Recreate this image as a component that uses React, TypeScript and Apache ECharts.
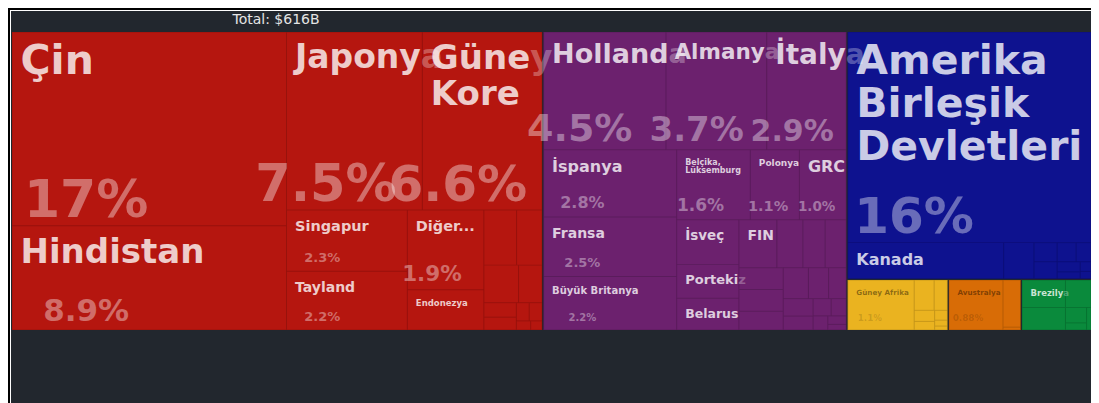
import React, { useEffect, useRef } from 'react';
import * as echarts from 'echarts';

const BG = '#22272e';
const FONT = 'DejaVu Sans';
// the tiling is computed on a box K times taller and drawn scaled back vertically
const K = 1.09;
const SERIES_LEFT = 1;
const SERIES_TOP = 21;
const SERIES_W = 1079;
const SERIES_H = 298;

const CONTINENTS = ['Asya', 'Avrupa', 'Kuzey Amerika', 'Afrika', 'Okyanusya', 'Güney Amerika'];
const CONTINENT_COLORS = ['#b5160f', '#6c216e', '#0e128f', '#eab320', '#d86c06', '#0a8a3c'];

// values in billions of USD
const ASIA_COUNTRIES = ['Çin', 'Hindistan', 'Japonya', 'Güney Kore', 'Singapur', 'Tayland', 'Diğer Asya', 'Endonezya', 'Türkiye', 'Malezya', 'İsrail', 'Pakistan', 'Filipinler', 'Vietnam', 'Bahreyn', 'Sri Lanka', 'Ürdün', 'Kazakistan'];
const ASIA_VALUES = [102, 54.9, 46.4, 40.9, 14.2, 13.6, 11.7, 5.9, 3.45, 2.7, 2.5, 1.7, 0.9, 0.8, 0.45, 0.45, 0.25, 0.2];

const EUROPE_COUNTRIES = ['Hollanda', 'Almanya', 'İtalya', 'İspanya', 'Fransa', 'Büyük Britanya', 'Belçika, Lüksemburg', 'Polonya', 'Yunanistan', 'İsveç', 'Portekiz', 'Belarus', 'Finlandiya', 'Litvanya', 'Romanya', 'Avusturya', 'Çekya', 'Slovakya', 'Macaristan', 'Bulgaristan', 'Hırvatistan', 'İsviçre', 'İrlanda', 'Norveç', 'Danimarka', 'Sırbistan', 'Ukrayna', 'Estonya', 'Letonya'];
const EUROPE_VALUES = [27.7, 22.8, 18.0, 17.2, 15.2, 13.7, 9.9, 6.6, 6.3, 5.35, 4.05, 3.8, 3.5, 2.4, 2.05, 1.95, 1.85, 1.85, 1.6, 1.5, 1.2, 1.05, 1.0, 0.8, 0.6, 0.5, 0.4, 0.3, 0.2];

const NORTH_AMERICA_COUNTRIES = ['Amerika Birleşik Devletleri', 'Kanada', 'Bahamalar', 'Trinidad ve Tobago', 'Curaçao', 'Jamaika', 'Panama', 'Nikaragua', 'Guatemala', 'Dominik Cumhuriyeti', 'Kosta Rika'];
const NORTH_AMERICA_VALUES = [98.7, 10.8, 2.1, 0.85, 0.75, 0.7, 0.55, 0.45, 0.3, 0.2, 0.15];

const AFRICA_COUNTRIES = ['Güney Afrika', 'Fas', 'Tunus', 'Gana', 'Senegal', 'Kenya', 'Kamerun', 'Fildişi Sahili'];
const AFRICA_VALUES = [6.6, 1.2, 0.8, 0.45, 0.35, 0.25, 0.15, 0.1];

const OCEANIA_COUNTRIES = ['Avustralya', 'Yeni Zelanda', 'Papua Yeni Gine'];
const OCEANIA_VALUES = [5.4, 1.65, 0.1];

const SOUTH_AMERICA_COUNTRIES = ['Brezilya', 'Şili', 'Peru', 'Uruguay', 'Arjantin', 'Kolombiya'];
const SOUTH_AMERICA_VALUES = [2.4, 1.95, 1.4, 0.65, 0.3, 0.2];

const GROUPS = [
  { countries: ASIA_COUNTRIES, values: ASIA_VALUES },
  { countries: EUROPE_COUNTRIES, values: EUROPE_VALUES },
  { countries: NORTH_AMERICA_COUNTRIES, values: NORTH_AMERICA_VALUES },
  { countries: AFRICA_COUNTRIES, values: AFRICA_VALUES },
  { countries: OCEANIA_COUNTRIES, values: OCEANIA_VALUES },
  { countries: SOUTH_AMERICA_COUNTRIES, values: SOUTH_AMERICA_VALUES },
];

// label styling (font sizes in px) for the labelled tiles
const NAME_SIZE: Record<string, number> = {
  'Çin': 41, 'Hindistan': 34, 'Japonya': 33, 'Güney Kore': 34, 'Singapur': 14.5, 'Tayland': 14,
  'Diğer Asya': 14.5, 'Endonezya': 8.5, 'Hollanda': 27, 'Almanya': 21.5, 'İtalya': 28, 'İspanya': 16,
  'Fransa': 14, 'Büyük Britanya': 10, 'Belçika, Lüksemburg': 8, 'Polonya': 9, 'Yunanistan': 16,
  'İsveç': 13.5, 'Finlandiya': 14, 'Portekiz': 13, 'Belarus': 12.5, 'Amerika Birleşik Devletleri': 41,
  'Kanada': 16, 'Güney Afrika': 7.2, 'Avustralya': 7.2, 'Brezilya': 8.5,
};
const PCT_SIZE: Record<string, number> = {
  'Çin': 52, 'Hindistan': 31, 'Japonya': 51, 'Güney Kore': 50, 'Singapur': 13, 'Tayland': 13,
  'Diğer Asya': 21.5, 'Hollanda': 38, 'Almanya': 34, 'İtalya': 30, 'İspanya': 16, 'Fransa': 13,
  'Büyük Britanya': 10, 'Belçika, Lüksemburg': 17, 'Polonya': 14.5, 'Yunanistan': 13.5,
  'Amerika Birleşik Devletleri': 50, 'Güney Afrika': 8.7, 'Avustralya': 8.8,
};
const SHORT_NAME: Record<string, string> = { 'Diğer Asya': 'Diğer...', 'Yunanistan': 'GRC', 'Finlandiya': 'FIN' };

let measureCtx: CanvasRenderingContext2D | null = null;
function textWidth(text: string, size: number): number {
  if (!measureCtx) measureCtx = document.createElement('canvas').getContext('2d');
  measureCtx!.font = `bold ${size}px "${FONT}"`;
  return measureCtx!.measureText(text).width;
}

function rgb(hex: string): number[] {
  const h = hex.replace('#', '');
  return [0, 2, 4].map((i) => parseInt(h.slice(i, i + 2), 16));
}
function darken(hex: string, f: number): string {
  const [r, g, b] = rgb(hex).map((v) => Math.round(v * f));
  return `rgb(${r},${g},${b})`;
}
function isLightColor(hex: string): boolean {
  const [r, g, b] = rgb(hex);
  return 0.299 * r + 0.587 * g + 0.114 * b > 110;
}

function wrapWords(text: string, size: number, maxW: number): string[] {
  const words = text.split(' ');
  const lines: string[] = [];
  let cur = '';
  for (const w of words) {
    const t = cur ? cur + ' ' + w : w;
    if (cur && textWidth(t, size) > maxW) {
      lines.push(cur);
      cur = w;
    } else cur = t;
  }
  if (cur) lines.push(cur);
  return lines;
}

function totalValue() {
  return GROUPS.reduce((s, g) => s + g.values.reduce((a, b) => a + b, 0), 0);
}

type Geo = { x: number; y: number; w: number; h: number; darkText: boolean; value: number };

// geometry in drawn pixels of the chart area
function buildLabelGraphic(name: string, g: Geo, total: number): any {
  const fsN = NAME_SIZE[name];
  if (!fsN) return null;
  const { w, h, darkText, value } = g;
  const base = darkText ? '0,0,0' : '255,255,255';
  const nameColor = darkText ? `rgba(${base},0.42)` : `rgba(${base},0.78)`;
  const nameFade = darkText ? `rgba(${base},0.18)` : `rgba(${base},0.3)`;
  const pctColor = darkText ? `rgba(${base},0.15)` : `rgba(${base},0.38)`;
  const display = SHORT_NAME[name] || name;
  const nameX = 8.5;
  const lines = wrapWords(display, fsN, w - nameX - 2);
  const lhN = fsN * 1.05;
  const padTop = Math.max(0, 9 - 0.06 * fsN);
  const nameBottom = padTop + lines.length * lhN;
  const fsP = PCT_SIZE[name];
  const lhP = fsP ? fsP * 0.8 : 0;
  let pctText = '';
  let pctX = 0;
  let gap = -1;
  if (fsP) {
    pctText = ((value / total) * 100).toPrecision(2) + '%';
    const pw = textWidth(pctText, fsP);
    pctX = 0.25 * w + 5.5 - pw / 2;
    const pctTop = h - 9 - 0.746 * fsP;
    gap = pctTop - nameBottom;
  }
  const showPct = !!fsP && gap >= 0;
  const minX = showPct ? Math.min(nameX, pctX) : nameX;
  const tok = (fs: number, lh: number, fill: string) => ({ fontSize: fs, lineHeight: lh, fontWeight: 'bold', fontFamily: FONT, fill });
  const rich: Record<string, any> = { n: tok(fsN, lhN, nameColor), nf: tok(fsN, lhN, nameFade) };
  const parts: string[] = [];
  const leadN = nameX - minX;
  if (leadN > 0.5) rich.sn = { width: leadN, fontSize: 1, lineHeight: 1 };
  lines.forEach((line) => {
    let s = leadN > 0.5 ? '{sn| }' : '';
    let fit = '';
    let fade = '';
    for (let k = 0; k < line.length; k++) {
      const c = nameX + (textWidth(line.slice(0, k), fsN) + textWidth(line.slice(0, k + 1), fsN)) / 2;
      if (!fade && c <= w - 0.1 * fsN) fit += line[k];
      else fade += line[k];
    }
    if (fit) s += `{n|${fit}}`;
    if (fade) s += `{nf|${fade}}`;
    parts.push(s);
  });
  if (showPct) {
    if (gap >= 1) {
      rich.g = { fontSize: 1, lineHeight: gap };
      parts.push('{g| }');
    }
    rich.p = tok(fsP, lhP, pctColor);
    const leadP = pctX - minX;
    let s = '';
    if (leadP > 0.5) {
      rich.sp = { width: leadP, fontSize: 1, lineHeight: 1 };
      s += '{sp| }';
    }
    s += `{p|${pctText}}`;
    parts.push(s);
  }
  return {
    type: 'text',
    x: g.x + minX,
    y: g.y + padTop,
    silent: true,
    style: { text: parts.join('\n'), rich, align: 'left', verticalAlign: 'top' },
  };
}

function treemapOption() {
  const data = GROUPS.map((g, gi) => {
    const color = CONTINENT_COLORS[gi];
    const border = darken(color, 0.84);
    return {
      name: CONTINENTS[gi],
      itemStyle: { color, borderColor: border, borderWidth: 0, gapWidth: 0 },
      children: g.countries.map((c, i) => ({
        name: c,
        value: g.values[i],
        itemStyle: { color, borderColor: border, borderWidth: 0.5 },
      })),
    };
  });
  return {
    animation: false,
    backgroundColor: BG,
    series: [
      {
        type: 'treemap',
        left: SERIES_LEFT,
        top: SERIES_TOP * K,
        width: SERIES_W,
        height: SERIES_H * K,
        roam: false,
        nodeClick: false,
        silent: true,
        breadcrumb: { show: false },
        sort: 'desc',
        squareRatio: 0.5 * (1 + Math.sqrt(5)),
        visibleMin: 0,
        label: { show: false },
        upperLabel: { show: false },
        levels: [
          { itemStyle: { borderWidth: 0, gapWidth: 1.5, borderColor: BG } },
          { itemStyle: { borderWidth: 0, gapWidth: 0 } },
          { itemStyle: { borderWidth: 0.5, gapWidth: 0 } },
        ],
        data,
      },
    ],
  };
}

export default function App() {
  const mapRef = useRef<HTMLDivElement>(null);
  const textRef = useRef<HTMLDivElement>(null);
  useEffect(() => {
    const el = mapRef.current;
    const tel = textRef.current;
    if (!el || !tel) return;
    const chart = echarts.init(el, undefined, { renderer: 'svg' });
    chart.setOption(treemapOption() as any);
    const total = totalValue();
    const colorOf: Record<string, string> = {};
    const valueOf: Record<string, number> = {};
    GROUPS.forEach((g, gi) => g.countries.forEach((c, i) => {
      colorOf[c] = CONTINENT_COLORS[gi];
      valueOf[c] = g.values[i];
    }));
    const graphics: any[] = [
      {
        type: 'text',
        x: 265,
        y: 8,
        silent: true,
        style: {
          text: `Total: $${Math.round(total)}B`,
          fill: '#e4e4e4',
          font: `14px "${FONT}"`,
          align: 'center',
          verticalAlign: 'middle',
        },
      },
    ];
    try {
      const series = (chart as any).getModel().getSeriesByIndex(0);
      const tree = series.getData().tree;
      tree.root.eachNode((node: any) => {
        if (node.depth !== 2 || node.children.length) return;
        const l = node.getLayout();
        if (!l) return;
        let x = 0;
        let y = 0;
        let n = node;
        while (n && n.depth >= 1) {
          const nl = n.getLayout();
          x += nl.x || 0;
          y += nl.y || 0;
          n = n.parentNode;
        }
        const geo: Geo = {
          x: SERIES_LEFT + x,
          y: SERIES_TOP + y / K,
          w: l.width,
          h: l.height / K,
          darkText: isLightColor(colorOf[node.name]),
          value: valueOf[node.name],
        };
        const gr = buildLabelGraphic(node.name, geo, total);
        if (gr) graphics.push(gr);
      });
    } catch (e) {
      // ignore
    }
    const textChart = echarts.init(tel, undefined, { renderer: 'svg' });
    textChart.setOption({ animation: false, backgroundColor: 'transparent', graphic: graphics } as any);
    return () => {
      chart.dispose();
      textChart.dispose();
    };
  }, []);
  return (
    <div style={{ width: 1081, height: 400, border: '2px solid #000', padding: 1, background: '#fff' }}>
      <div style={{ position: 'relative', width: 1081, height: 400, overflow: 'hidden', background: BG }}>
        <div
          ref={mapRef}
          style={{
            position: 'absolute',
            left: 0,
            top: 0,
            width: 1081,
            height: 400 * K,
            transform: `scaleY(${1 / K})`,
            transformOrigin: '0 0',
          }}
        />
        <div ref={textRef} style={{ position: 'absolute', left: 0, top: 0, width: 1081, height: 400 }} />
      </div>
    </div>
  );
}
